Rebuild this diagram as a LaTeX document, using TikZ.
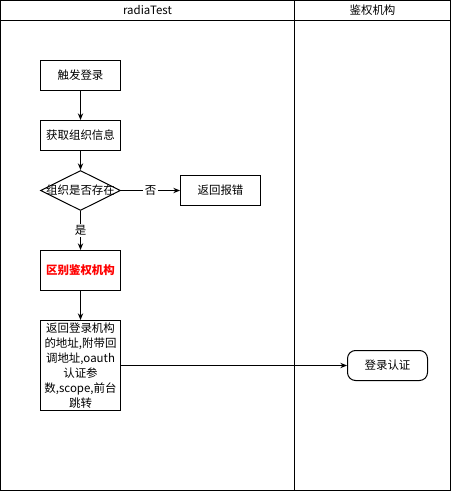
\documentclass[tikz,border=0pt]{standalone}
\usepackage{fontspec}
\setmainfont{Noto Sans CJK SC}
\usetikzlibrary{shapes.geometric,arrows.meta}
\begin{document}
\begin{tikzpicture}[x=0.75pt,y=-0.75pt,
  every node/.style={font=\fontsize{8.6}{11}\selectfont},
  line/.style={line width=0.75pt},
  box/.style={draw,line width=0.75pt,minimum width=60pt,minimum height=22.5pt,inner sep=1pt},
  flow/.style={line width=0.75pt,-{Stealth[length=5pt,width=4pt]}},
  lbl/.style={fill=white,inner sep=1pt}]
\useasboundingbox (0,0) rectangle (451,491);
% pool and lanes
\draw[line,fill=white] (0.5,0.5) rectangle (450.5,490.5);
\draw[line] (0.5,20.5) -- (450.5,20.5);
\draw[line] (294.5,0.5) -- (294.5,490.5);
\node (laneA) at (147.5,10.5) {radiaTest};
\node (laneB) at (372.5,10.5) {鉴权机构};
% steps
\node[box] (trigger) at (80.5,75.5) {触发登录};
\node[box] (fetch) at (80.5,135.5) {获取组织信息};
\node[draw,line width=0.75pt,diamond,aspect=2,minimum width=60pt,minimum height=30pt,inner sep=0pt] (exists) at (80.5,190.5) {};
\node[inner sep=0pt] (existsText) at (exists.center) {组织是否存在};
\node[box] (err) at (220.5,190.5) {返回报错};
\node[box,minimum height=30pt,text=red,font=\fontsize{8.6}{11}\selectfont\bfseries] (diff) at (80.5,270.5) {区别鉴权机构};
\node[box,minimum height=67.5pt,text width=58pt,align=center,font=\fontsize{8.6}{11.2}\selectfont] (ret) at (80.5,365.5) {返回登录机构\\的地址,附带回\\调地址,oauth\\认证参\\数,scope,前台\\跳转};
\node[box,rounded corners=6pt] (login) at (387.5,365.5) {登录认证};
% connectors
\draw[flow] (trigger) -- (fetch);
\draw[flow] (fetch) -- (exists);
\draw[flow] (exists) -- node[lbl,pos=0.5] {否} (err);
\draw[flow] (exists) -- node[lbl,pos=0.5] {是} (diff);
\draw[flow] (diff) -- (ret);
\draw[flow] (ret) -- (login);
\end{tikzpicture}
\end{document}
